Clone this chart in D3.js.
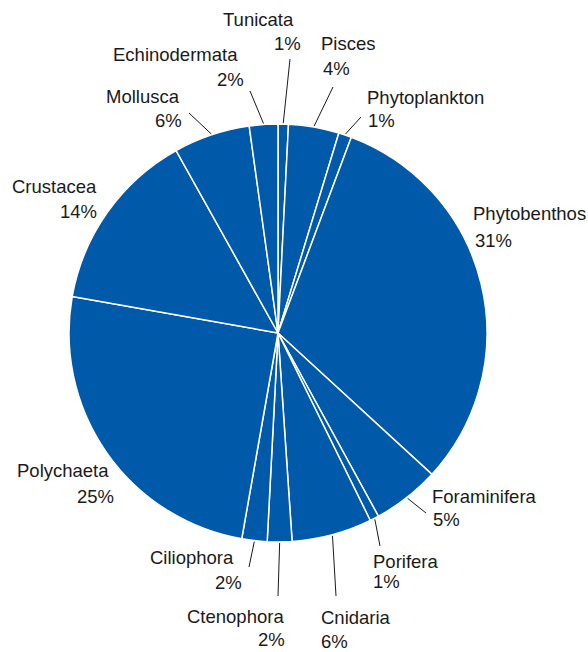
<!DOCTYPE html>
<html>
<head>
<meta charset="utf-8">
<script src="https://cdn.jsdelivr.net/npm/d3@7"></script>
<style>
  body { margin: 0; background: #fff; }
  svg text { font-family: "Liberation Sans", Arial, sans-serif; font-size: 18.5px; fill: #1a1a1a; }
</style>
</head>
<body>
<svg id="chart" width="588" height="652"></svg>
<script>
var width = 588;
var height = 652;

// Data: share of each group, clockwise from 12 o'clock
var groups = ["Tunicata", "Pisces", "Phytoplankton", "Phytobenthos", "Foraminifera", "Porifera",
    "Cnidaria", "Ctenophora", "Ciliophora", "Polychaeta", "Crustacea", "Mollusca", "Echinodermata"];
var shares = [0.8, 3.9, 1.0, 31.1, 5.2, 0.7, 6.2, 1.9, 1.95, 25.0, 14.1, 5.9, 2.2];

// Label layout (text line positions, leader outer end)
var labelLayout = {
    Tunicata:      { l1: [223, 26], l2: [274, 50], lead: [290, 59] },
    Pisces:        { l1: [321, 50], l2: [323, 75], lead: [333, 87] },
    Phytoplankton: { l1: [367, 104], l2: [368, 127], lead: [361, 117] },
    Phytobenthos:  { l1: [473, 220], l2: [475, 247], lead: null },
    Foraminifera:  { l1: [432, 503], l2: [433, 526], lead: [426, 513] },
    Porifera:      { l1: [373, 568], l2: [373, 588], lead: [380, 546] },
    Cnidaria:      { l1: [321, 624], l2: [321, 648], lead: [336, 596] },
    Ctenophora:    { l1: [187, 623], l2: [258, 646], lead: [278, 596] },
    Ciliophora:    { l1: [150, 564], l2: [215, 589], lead: [249, 567] },
    Polychaeta:    { l1: [17, 477], l2: [77, 503], lead: null },
    Crustacea:     { l1: [12, 193], l2: [60, 218], lead: null },
    Mollusca:      { l1: [106, 103], l2: [155, 127], lead: [189, 113] },
    Echinodermata: { l1: [113, 61], l2: [217, 86], lead: [250, 91] }
};

var cx = 278, cy = 333, radius = 209;
var total = d3.sum(shares);

var data = groups.map(function (g, i) {
    return { name: g, value: shares[i] };
});

var svg = d3.select("#chart");
var g = svg.append("g").attr("transform", "translate(" + cx + "," + cy + ")");

var pie = d3.pie().sort(null).value(d => d.value).startAngle(0).endAngle(2 * Math.PI);
var arc = d3.arc().innerRadius(0).outerRadius(radius);
var arcs = pie(data);

g.selectAll("path.slice")
    .data(arcs)
    .enter()
    .append("path")
    .attr("class", "slice")
    .attr("d", arc)
    .attr("fill", "#0059a9")
    .attr("stroke", "#fff")
    .attr("stroke-width", 1.5)
    .attr("stroke-linejoin", "round");

// leader lines
arcs.forEach(function (a) {
    var lay = labelLayout[a.data.name];
    if (!lay.lead) return;
    var mid = (a.startAngle + a.endAngle) / 2;
    var r0 = radius + 1;
    svg.append("line")
        .attr("x1", cx + Math.sin(mid) * r0)
        .attr("y1", cy - Math.cos(mid) * r0)
        .attr("x2", lay.lead[0])
        .attr("y2", lay.lead[1])
        .attr("stroke", "#1a1a1a")
        .attr("stroke-width", 1);
});

// labels
arcs.forEach(function (a) {
    var lay = labelLayout[a.data.name];
    svg.append("text")
        .attr("x", lay.l1[0])
        .attr("y", lay.l1[1])
        .text(a.data.name);
    svg.append("text")
        .attr("x", lay.l2[0])
        .attr("y", lay.l2[1])
        .text(Math.round(a.data.value / total * 100) + "%");
});
</script>
</body>
</html>
